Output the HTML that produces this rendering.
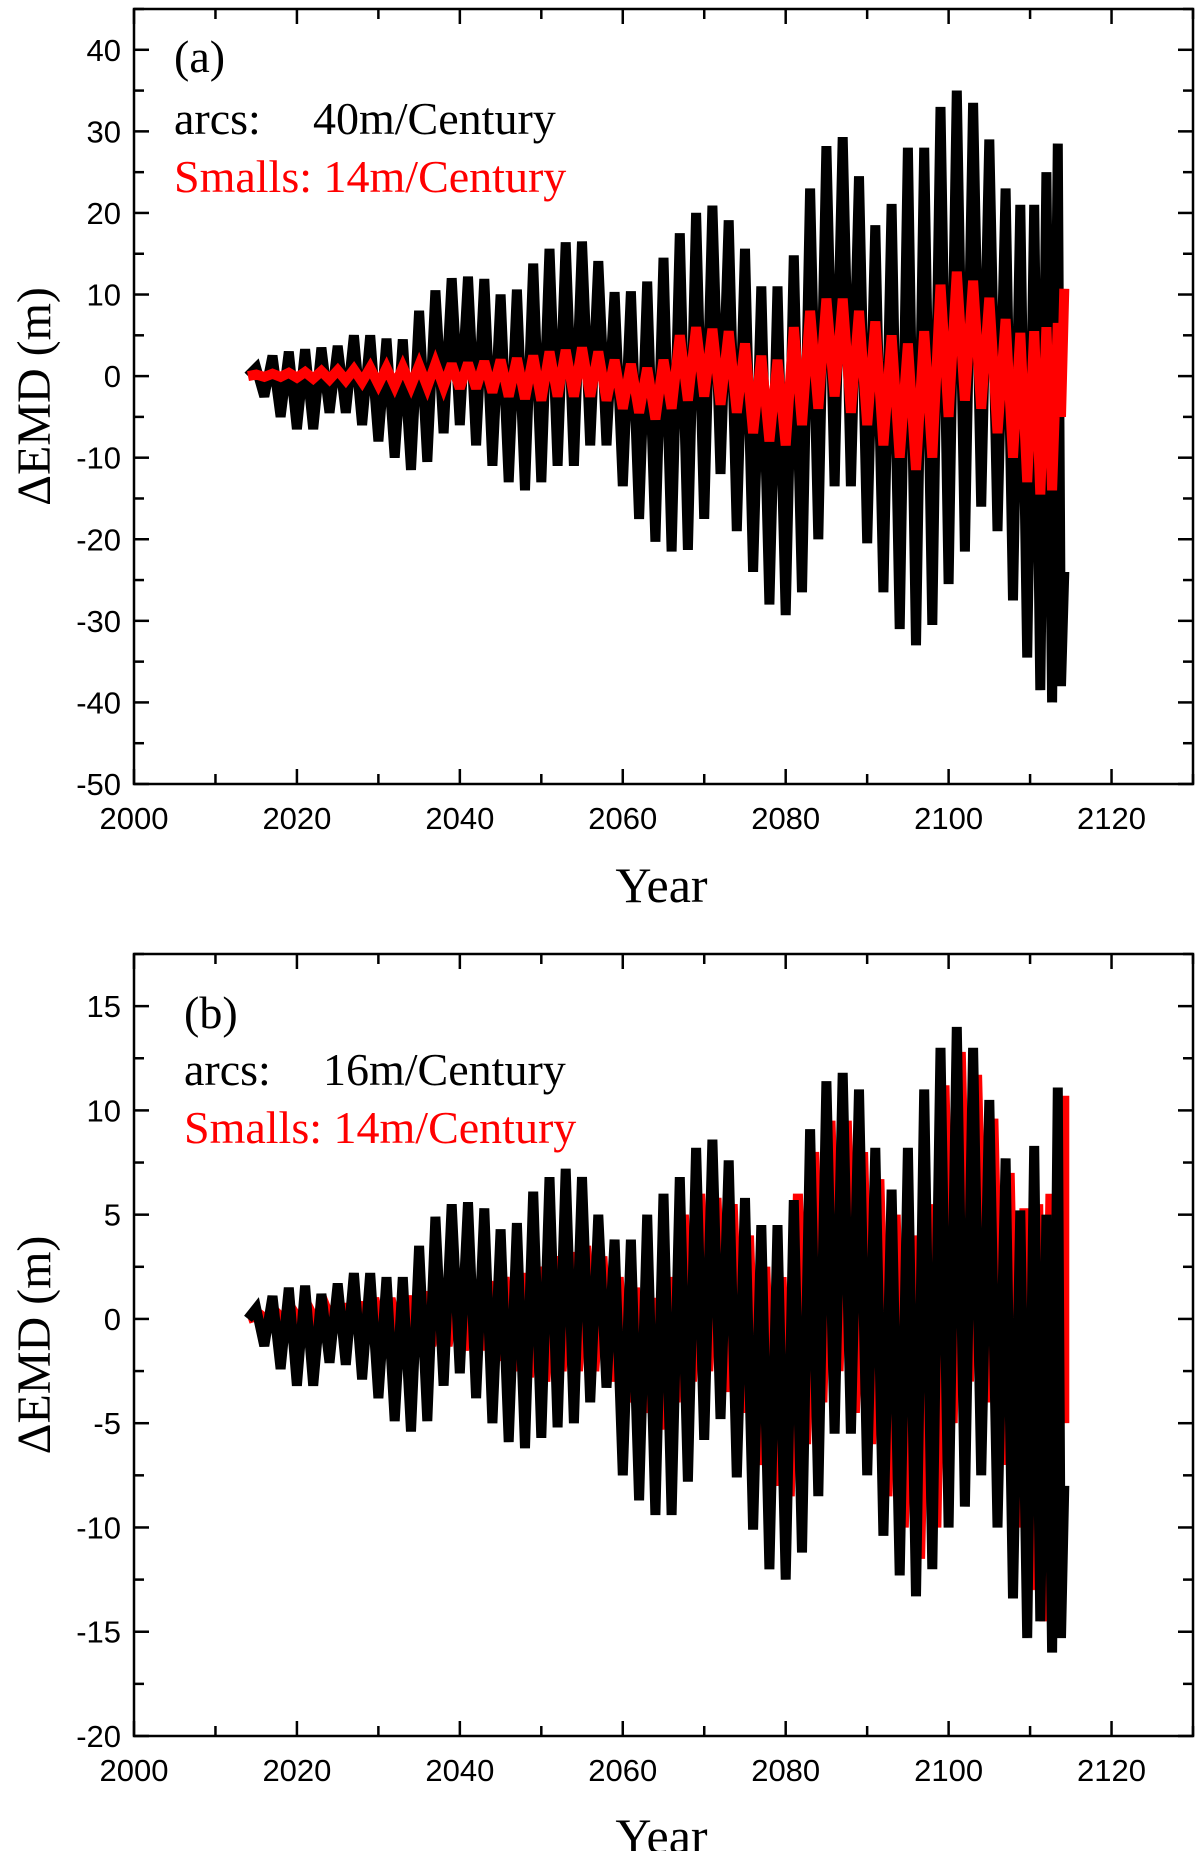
<!DOCTYPE html>
<html><head><meta charset="utf-8"><style>
html,body{margin:0;padding:0;background:#fff;}
svg{display:block;}
</style></head><body>
<svg id="fig" width="1200" height="1851" viewBox="0 0 1200 1851" xmlns="http://www.w3.org/2000/svg">
<g id="pa"></g>
<g id="pb"></g>
</svg>
<script>
// shared cycle years (peak at year, trough half-cycle later)
const cycleYears = [2015,2017,2019,2021,2023,2025,2027,2029,2031,2033,2035,2037,2039,2041,2043,2045,2047,2049,2051,2053,2055,2057,2059,2061,2063,2065,2067,2069,2071,2073,2075,2077,2079,2081,2083,2085,2087,2089,2091,2093,2095,2097,2099,2101,2103,2105,2107,2108.8,2110.5,2112,2113.4];
// Panel (a) black: arcs
const arcsAPeaks = [1,2.5,3,3.3,3.5,3.7,5,5,4.6,4.5,8,10.5,12,12.2,11.9,10,10.6,13.8,15.6,16.4,16.5,14.1,10.3,10.4,11.6,14.5,17.5,20,20.9,19.1,15.6,11,11,14.8,23,28.2,29.3,24.5,18.5,21.1,28,28,33,35,33.5,29,23,21,21,25,28.5];
const arcsATroughs = [-2.5,-5,-6.5,-6.5,-4.5,-4.5,-6,-8,-10,-11.5,-10.5,-7,-6,-8.5,-11,-13,-14,-13,-11,-11,-8.5,-8.5,-13.5,-17.5,-20.3,-21.5,-21.3,-17.5,-12,-19,-24,-28,-29.3,-26.5,-20,-13.5,-13.5,-20.5,-26.5,-31,-33,-30.5,-25.5,-21.5,-16,-19,-27.5,-34.5,-38.5,-40,-38];
const arcsAEnd = -24;
// Smalls (same in both panels)
const smallsPeaks = [0.2,0.3,0.4,0.5,0.6,0.7,0.8,1,1,1.1,1.3,1.5,1.5,1.6,1.8,2,2.2,2.5,3,3.2,3.5,3,2,1.5,1,2,5,6,5.8,5.5,4,2.5,2,6,8,9.5,9.5,8,6.7,5,4,5.5,11.2,12.8,11.7,9.6,7,5.3,5.5,6,6.5];
const smallsTroughs = [-0.1,-0.1,-0.2,-0.3,-0.4,-0.5,-0.7,-1,-1.2,-1.2,-1.3,-1.3,-1.5,-1.5,-2,-2.5,-2.8,-3,-2.5,-2.5,-2.5,-3,-4,-4.5,-5.3,-4,-3,-2.5,-3.5,-4.5,-7,-8,-8.5,-6,-4,-2.5,-4.5,-6,-8.5,-10,-11.5,-10,-5,-3,-4,-7,-10,-13,-14.5,-14,-5];
const smallsEnd = 10.7;
// Panel (b) black: arcs
const arcsBPeaks = [0.5,1.1,1.5,1.6,1.2,1.7,2.2,2.2,2,2,3.5,4.9,5.5,5.6,5.3,4.3,4.6,6.1,6.8,7.2,6.8,5,3.8,3.8,5,6,6.8,8.2,8.6,7.6,5.8,4.5,4.5,5.7,9.1,11.4,11.8,11,8.2,6.2,8.2,11,13,14,13,10.5,7.7,5.2,8.3,5,11.1];
const arcsBTroughs = [-1.3,-2.4,-3.2,-3.2,-2.1,-2.2,-2.9,-3.8,-4.9,-5.4,-4.9,-3.2,-2.6,-3.8,-5,-5.9,-6.2,-5.7,-5.2,-5,-4,-3.3,-7.5,-8.7,-9.4,-9.4,-7.8,-5.8,-4.8,-7.6,-10.1,-12,-12.5,-11.2,-8.5,-5.5,-5.5,-7.5,-10.4,-12.3,-13.3,-12,-10,-9,-7.5,-10,-13.4,-15.3,-14.5,-16,-15.3];
const arcsBEnd = -8;
const startYear = 2014;

const xTicks = [2000,2020,2040,2060,2080,2100,2120];
const yTicksA = [-50,-40,-30,-20,-10,0,10,20,30,40];
const yTicksB = [-20,-15,-10,-5,0,5,10,15];

const NS = 'http://www.w3.org/2000/svg';
function mk(tag, attrs, parent){const e=document.createElementNS(NS,tag);for(const k in attrs)e.setAttribute(k,attrs[k]);parent.appendChild(e);return e;}

function panel(g, cfg){
  const L=134, R=1193, T=cfg.top, B=cfg.bottom;
  const xs=v=>L+(v-2000)/130*(R-L);
  const ys=v=>B-(v-cfg.ymin)/(cfg.ymax-cfg.ymin)*(B-T);
  function series(peaks, troughs, end, color, name, shift){
    const pts=[[startYear,0]];
    for(let i=0;i<cycleYears.length;i++){
      pts.push([cycleYears[i]+shift,peaks[i]]);
      const ty = i<cycleYears.length-1 ? (cycleYears[i]+cycleYears[i+1])/2 : cycleYears[i]+0.4;
      pts.push([ty+shift,troughs[i]]);
    }
    pts.push([2114.2,end]);
    const p=mk('polyline',{points:pts.map(q=>xs(Math.min(q[0],2114.2)).toFixed(1)+','+ys(q[1]).toFixed(1)).join(' '),fill:'none',stroke:color,'stroke-width':cfg.sw,'stroke-linejoin':'miter','stroke-miterlimit':'3'},g);
    
    
  }
  if(cfg.redFirst){
    series(smallsPeaks,smallsTroughs,smallsEnd,'#f00','smalls-line',cfg.redShift);
    series(cfg.bp,cfg.bt,cfg.be,'#000','arcs-line',0);
  } else {
    series(cfg.bp,cfg.bt,cfg.be,'#000','arcs-line',0);
    series(smallsPeaks,smallsTroughs,smallsEnd,'#f00','smalls-line',cfg.redShift);
  }
  const fr=mk('rect',{x:L,y:T,width:R-L,height:B-T,fill:'none',stroke:'#000','stroke-width':2.5},g);
  
  
  for(let v=2000; v<=2130; v+=10){
    const major = v%20===0, len=major?15:10;
    mk('line',{x1:xs(v),x2:xs(v),y1:B,y2:B-len,stroke:'#000','stroke-width':2.5},g);
    mk('line',{x1:xs(v),x2:xs(v),y1:T,y2:T+len,stroke:'#000','stroke-width':2.5},g);
  }
  xTicks.forEach(v=>{
    const t=mk('text',{x:xs(v),y:B+45,'text-anchor':'middle','font-family':'Liberation Sans, sans-serif','font-size':31},g);
    t.textContent=v;
    
    
  });
  const step=cfg.yt[1]-cfg.yt[0];
  for(let v=cfg.ymin; v<=cfg.ymax+1e-6; v+=step/2){
    const major = Math.abs(((v-cfg.ymin)/step)%1)<1e-6, len=major?15:10;
    mk('line',{x1:L,x2:L+len,y1:ys(v),y2:ys(v),stroke:'#000','stroke-width':2.5},g);
    mk('line',{x1:R,x2:R-len,y1:ys(v),y2:ys(v),stroke:'#000','stroke-width':2.5},g);
  }
  cfg.yt.forEach(v=>{
    const t=mk('text',{x:121,y:ys(v)+11,'text-anchor':'end','font-family':'Liberation Sans, sans-serif','font-size':31},g);
    t.textContent=v;
    
    
  });
  const yt=mk('text',{x:0,y:0,transform:'translate(50,'+((T+B)/2)+') rotate(-90)','text-anchor':'middle','font-family':'Liberation Serif, serif','font-size':48},g);
  yt.textContent='ΔEMD (m)';
  
  
  const xt=mk('text',{x:(L+R)/2-2,y:cfg.xtY,'text-anchor':'middle','font-family':'Liberation Serif, serif','font-size':50},g);
  xt.textContent='Year';
  
  
  const tg=mk('text',{x:cfg.lx,y:cfg.ly[0],'font-family':'Liberation Serif, serif','font-size':46},g);
  tg.textContent=cfg.tag;
  
  
  const a1=mk('text',{x:cfg.lx,y:cfg.ly[1],'font-family':'Liberation Serif, serif','font-size':46},g);
  a1.textContent='arcs:';
  
  
  const a2=mk('text',{x:cfg.lx2,y:cfg.ly[1],'font-family':'Liberation Serif, serif','font-size':46},g);
  a2.textContent=cfg.arcs;
  
  
  const s=mk('text',{x:cfg.lx,y:cfg.ly[2],fill:'#f00','font-family':'Liberation Serif, serif','font-size':46},g);
  s.textContent='Smalls: 14m/Century';
  
  
}
panel(document.getElementById('pa'),{top:9,bottom:784,ymin:-50,ymax:45,yt:yTicksA,bp:arcsAPeaks,bt:arcsATroughs,be:arcsAEnd,redShift:0,redFirst:false,sw:10,xtY:902,tag:'(a)',arcs:'40m/Century',lx:174,lx2:313,ly:[72,134,192]});
panel(document.getElementById('pb'),{top:954,bottom:1736,ymin:-20,ymax:17.5,yt:yTicksB,bp:arcsBPeaks,bt:arcsBTroughs,be:arcsBEnd,redShift:0.5,redFirst:true,sw:10,xtY:1853,tag:'(b)',arcs:'16m/Century',lx:184,lx2:323,ly:[1028,1085,1143]});
</script>
</body></html>
